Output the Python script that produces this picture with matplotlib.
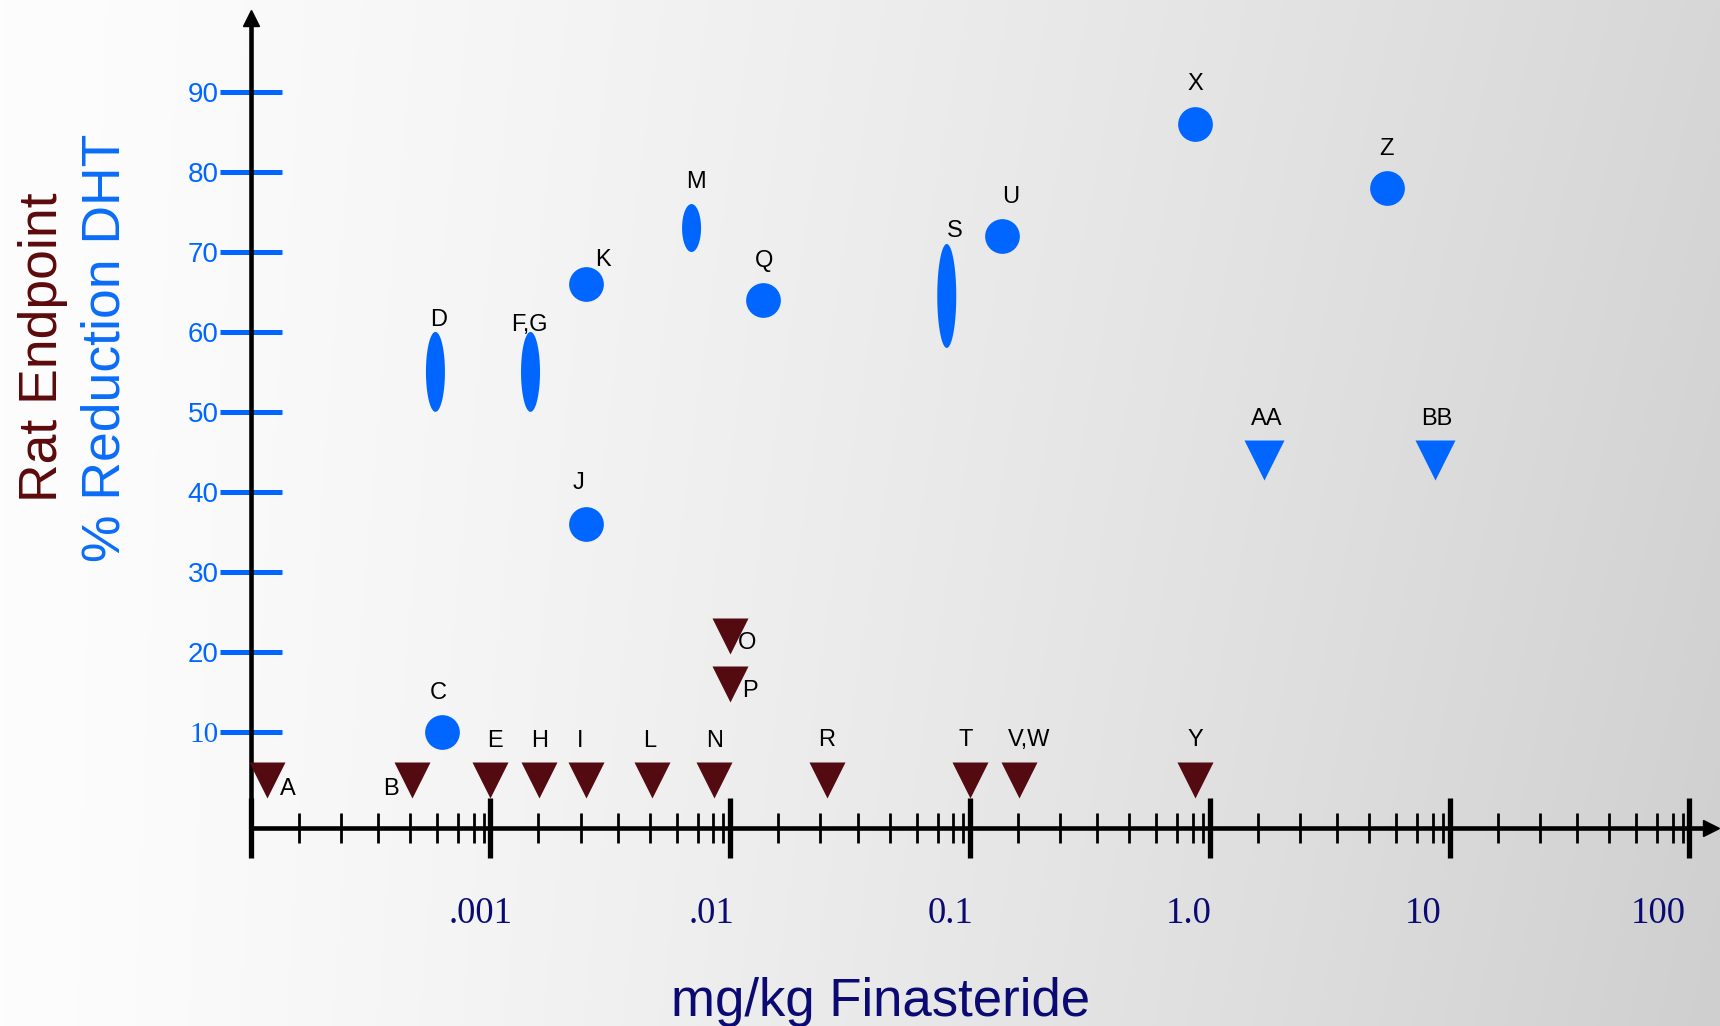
import numpy as np
import matplotlib
matplotlib.use('Agg')
from matplotlib import pyplot as plt
from matplotlib.ticker import FixedLocator, FixedFormatter, NullFormatter
from matplotlib.transforms import ScaledTranslation

# DHT reduction, single value (circles)
circle_names = ['C', 'J', 'K', 'Q', 'U', 'X', 'Z']
circle_dose = [6.3e-4, 2.5e-3, 2.5e-3, 0.0137, 0.136, 0.87, 5.47]
circle_dht = [10, 36, 66, 64, 72, 86, 78]

# DHT reduction given as a range (ellipses)
range_names = ['D', 'F,G', 'M', 'S']
range_dose = [5.9e-4, 1.47e-3, 6.9e-3, 0.08]
range_low = [50, 50, 70, 58]
range_high = [60, 60, 76, 71]

# DHT reduction, triangles
dht_tri_names = ['AA', 'BB']
dht_tri_dose = [1.68, 8.7]
dht_tri_value = [44, 44]

# rat endpoints
rat_names = ['A', 'B', 'E', 'H', 'I', 'L', 'N', 'O', 'P', 'R', 'T', 'V,W', 'Y']
rat_dose = [1.17e-4, 4.7e-4, 1.0e-3, 1.6e-3, 2.5e-3, 4.7e-3, 8.6e-3, 0.01, 0.01, 0.0253, 0.1, 0.16, 0.87]
rat_value = [4, 4, 4, 4, 4, 4, 4, 22, 16, 4, 4, 4, 4]

x_tick_values = [1e-4, 1e-3, 1e-2, 0.1, 1, 10, 100]
x_tick_labels = ['', '.001', '.01', '0.1', '1.0', '10', '100']
y_tick_values = [10, 20, 30, 40, 50, 60, 70, 80, 90]

BLUE = '#0066ff'
DARKRED = '#530a10'
NAVY = '#0a0a72'

# label offsets (points) from each mark
label_offsets = {
    'A': (15, -7), 'B': (-15, -7), 'C': (-3, 28), 'E': (3, 27.6), 'H': (0, 27.6),
    'I': (-4, 27.6), 'L': (-1, 27.6), 'N': (0, 27.6), 'J': (-5, 29), 'K': (12, 17),
    'O': (12, -5), 'P': (14.5, -5), 'Q': (0.5, 28.3), 'R': (0, 28.4), 'T': (-3, 28.4),
    'V,W': (7, 28.4), 'Y': (0, 28.4), 'U': (6, 28.3), 'X': (0, 28.6), 'Z': (0, 28.3),
    'AA': (2, 29.2), 'BB': (1.5, 29.2),
    'D': (2, 8.6), 'F,G': (-0.5, 4.8), 'M': (3.4, 15.8), 'S': (5.8, 9.6),
}

fig = plt.figure(figsize=(17.2, 10.26), dpi=100)

# background gradient
bg = fig.add_axes([0, 0, 1, 1])
xf = np.linspace(0, 1, 430)[None, :]
yf = np.linspace(0, 1, 260)[:, None]
shade = (253 - 38 * xf ** 1.3 - 8 * yf * xf) / 255
bg.imshow(np.dstack([shade] * 3), aspect='auto', extent=(0, 1, 0, 1))
bg.axis('off')

ax = fig.add_axes([0, 0, 1, 1])
ax.patch.set_alpha(0)
ax.set_xscale('log')
ax.set_xlim(10 ** -5.045, 10 ** 2.1276)
ax.set_ylim(-26.84, 101.53)

for s in ['top', 'right']:
    ax.spines[s].set_visible(False)
ax.spines['left'].set_position(('data', 1e-4))
ax.spines['bottom'].set_position(('data', -2.06))
ax.spines['left'].set_bounds(-2.06, 99.3)
ax.spines['bottom'].set_bounds(1e-4, 10 ** 2.09)
ax.spines['left'].set_linewidth(3.3)
ax.spines['bottom'].set_linewidth(3.3)

# x ticks: decades plus hand-spaced minor marks
fracs = [0.2, 0.376, 0.531, 0.665, 0.777, 0.865, 0.93, 0.972]
minor = [10 ** (d + f) for d in range(-4, 2) for f in fracs]
ax.xaxis.set_major_locator(FixedLocator(x_tick_values))
ax.xaxis.set_major_formatter(FixedFormatter(x_tick_labels))
ax.xaxis.set_minor_locator(FixedLocator(minor))
ax.xaxis.set_minor_formatter(NullFormatter())
ax.tick_params(axis='x', which='major', direction='inout', length=43, width=3.8,
               pad=28, labelsize=26.5, labelcolor=NAVY)
ax.tick_params(axis='x', which='minor', direction='inout', length=21, width=2)
label_shift = [0, -10, -19, -19, -21, -26, -31]
for lbl, dx in zip(ax.get_xticklabels(), label_shift):
    lbl.set_fontfamily('Liberation Serif')
    lbl.set_transform(lbl.get_transform() + ScaledTranslation(dx * 0.72 / 72, 0, fig.dpi_scale_trans))

ax.set_yticks(y_tick_values)
ax.set_yticklabels([str(v) for v in y_tick_values])
ax.tick_params(axis='y', direction='inout', length=45, width=3.6, color=BLUE,
               labelcolor=BLUE, pad=0.5, labelsize=20)
for lbl in ax.get_yticklabels():
    if lbl.get_text() == '10':
        lbl.set_fontfamily('Liberation Serif')
        lbl.set_fontsize(21)
    else:
        lbl.set_fontfamily('Liberation Sans')

# axis arrows
ax.plot([1e-4], [99.3], marker='^', ms=11, color='black', clip_on=False)
ax.plot([10 ** 2.09], [-2.06], marker='>', ms=11.5, color='black', clip_on=False)

# marks
ax.plot(circle_dose, circle_dht, 'o', ms=25, color=BLUE, mec='none', zorder=3)
ax.plot(dht_tri_dose, dht_tri_value, 'v', ms=29.5, color=BLUE, mec='none', zorder=3)
ax.plot(rat_dose, rat_value, 'v', ms=25.5, color=DARKRED, mec='none', zorder=3)

t = np.linspace(0, 2 * np.pi, 120)
half_w = 0.0396  # decades
for d, lo, hi in zip(range_dose, range_low, range_high):
    xs = 10 ** (np.log10(d) + half_w * np.cos(t))
    ys = (lo + hi) / 2 + (hi - lo) / 2 * np.sin(t)
    ax.fill(xs, ys, color=BLUE, lw=0, zorder=3)


def put_label(name, x, y):
    ax.annotate(name, (x, y), xytext=label_offsets[name], textcoords='offset points',
                ha='center', va='center', fontsize=17, family='Liberation Sans', color='black')


for n, x, y in zip(circle_names, circle_dose, circle_dht):
    put_label(n, x, y)
for n, x, y in zip(dht_tri_names, dht_tri_dose, dht_tri_value):
    put_label(n, x, y)
for n, x, y in zip(rat_names, rat_dose, rat_value):
    put_label(n, x, y)
for n, x, y in zip(range_names, range_dose, range_high):
    put_label(n, x, y)

fig.text(57 / 1720, 1 - 347 / 1026, 'Rat Endpoint', rotation=90, rotation_mode='anchor',
         ha='center', va='baseline', fontsize=38.5, family='Liberation Sans', color='#5c0a0c')
fig.text(120 / 1720, 1 - 348 / 1026, '% Reduction DHT', rotation=90, rotation_mode='anchor',
         ha='center', va='baseline', fontsize=38.5, family='Liberation Sans', color='#0a6cf8')
fig.text(881 / 1720, 1 - 1016 / 1026, 'mg/kg Finasteride', ha='center', va='baseline',
         fontsize=38, family='Liberation Sans', color=NAVY)

fig.savefig('out.png', dpi=100)
